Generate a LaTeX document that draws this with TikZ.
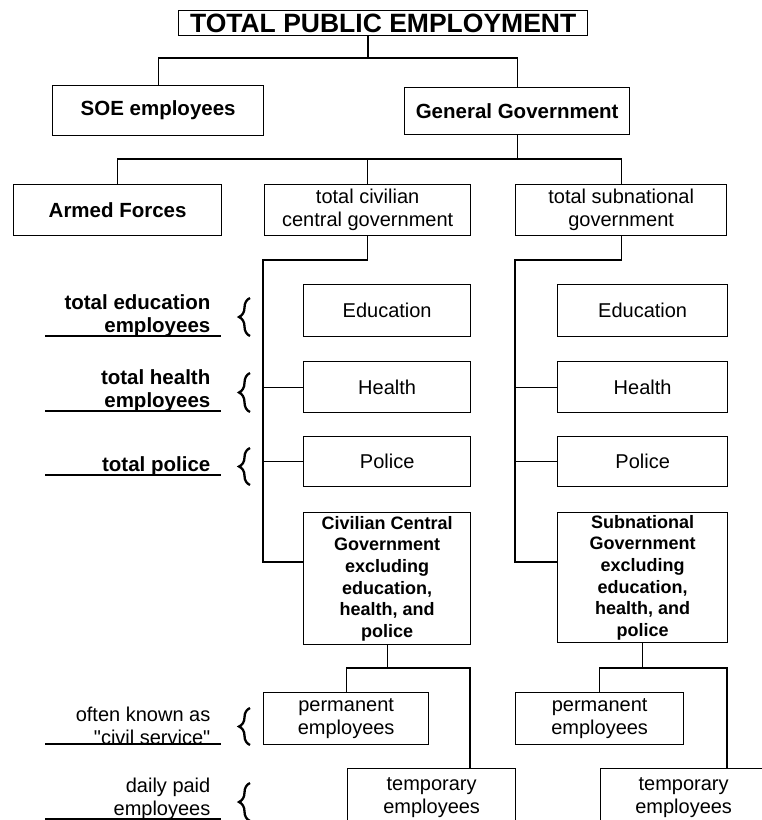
\documentclass[tikz,border=0pt]{standalone}
\usepackage{fontspec}
\newfontfamily\arialfont{Liberation Sans}
\usetikzlibrary{decorations.pathreplacing}
\begin{document}
\begin{tikzpicture}[x=1pt,y=-1pt,line width=1.3pt,
  box/.style={draw, rectangle, inner sep=0pt, align=center, anchor=north west,
    font=\arialfont\fontsize{20}{23}\selectfont},
  bbox/.style={box, font=\arialfont\fontsize{20.5}{23}\selectfont\bfseries},
  tbox/.style={box, font=\arialfont\fontsize{18}{21.7}\selectfont\bfseries},
  titlebox/.style={box, font=\arialfont\fontsize{26.5}{28}\selectfont\bfseries},
  lab/.style={inner sep=0pt, align=right, anchor=south east,
    font=\arialfont\fontsize{20}{23}\selectfont},
  blab/.style={lab, font=\arialfont\fontsize{20.5}{23}\selectfont\bfseries},
  conn/.style={draw, line width=1.3pt},
  uline/.style={line width=1.4pt},
  brc/.style={decorate, decoration={brace, amplitude=11pt, aspect=0.5}, line width=2.3pt}]
\useasboundingbox (0,0) rectangle (762,820);
\fill[white] (0,0) rectangle (762,820);
\clip (0,0) rectangle (762,820);

% boxes
\node[titlebox, minimum width=409pt, minimum height=25pt] (title) at (178,10) {TOTAL PUBLIC EMPLOYMENT};
\node[bbox, minimum width=211pt, minimum height=50pt] (soe) at (52,85) {SOE employees};
\node[bbox, minimum width=225pt, minimum height=47pt] (gg) at (404,87) {General Government};
\node[bbox, minimum width=208pt, minimum height=51pt] (af) at (13,184) {Armed Forces};
\node[box, minimum width=206pt, minimum height=51pt] (civ) at (264,184) {total civilian\\central government};
\node[box, minimum width=211pt, minimum height=51pt] (sub) at (515,184) {total subnational\\government};

\node[box, minimum width=167pt, minimum height=52pt] (ced) at (303,284) {Education};
\node[box, minimum width=167pt, minimum height=51pt] (che) at (303,361) {Health};
\node[box, minimum width=167pt, minimum height=50pt] (cpo) at (303,436) {Police};
\node[tbox, minimum width=167pt, minimum height=132pt] (ccg) at (303,512) {Civilian Central\\Government\\excluding\\education,\\health, and\\police};

\node[box, minimum width=170pt, minimum height=52pt] (sed) at (557,284) {Education};
\node[box, minimum width=170pt, minimum height=51pt] (she) at (557,361) {Health};
\node[box, minimum width=170pt, minimum height=50pt] (spo) at (557,436) {Police};
\node[tbox, minimum width=170pt, minimum height=130pt] (sng) at (557,512) {Subnational\\Government\\excluding\\education,\\health, and\\police};

\node[box, minimum width=165pt, minimum height=52pt] (cpe) at (263,692) {permanent\\employees};
\node[box, minimum width=168pt, minimum height=58pt] (cte) at (347,768) {temporary\\employees};
\node[box, minimum width=168pt, minimum height=52pt] (spe) at (515,692) {permanent\\employees};
\node[box, minimum width=166pt, minimum height=58pt] (ste) at (600,768) {temporary\\employees};

% junction coordinates
\coordinate (j1) at (368,58);
\coordinate (j2) at (515,159);
\coordinate (cs) at (263,260);
\coordinate (cb) at (263,562);
\coordinate (ss) at (515,260);
\coordinate (sb) at (515,562);
\coordinate (cj) at (470,668);
\coordinate (sj) at (727,668);

% connectors
\draw[conn] (title.south -| j1) -- (j1);
\draw[conn] (soe.north) |- (j1) -| (gg.north);
\draw[conn] (gg.south) -- (gg.south |- j2);
\draw[conn] (af.north) |- (j2) -| (sub.north);
\draw[conn] (civ.north) -- (civ.north |- j2);

\draw[conn] (civ.south) |- (cs) -- (cb) -- (cb -| ccg.west);
\draw[conn] (cs |- che.west) -- (che.west);
\draw[conn] (cs |- cpo.west) -- (cpo.west);
\draw[conn] (sub.south) |- (ss) -- (sb) -- (sb -| sng.west);
\draw[conn] (ss |- she.west) -- (she.west);
\draw[conn] (ss |- spo.west) -- (spo.west);

\draw[conn] (ccg.south) -- (ccg.south |- cj);
\draw[conn] (cpe.north) |- (cj) -- (cj |- cte.north);
\draw[conn] (sng.south) -- (sng.south |- sj);
\draw[conn] (spe.north) |- (sj) -- (sj |- ste.north);

% left labels
\node[blab] (l1) at (211,337) {total education\\employees};
\node[blab] (l2) at (211,412) {total health\\employees};
\node[blab] (l3) at (211,476) {total police};
\node[lab] (l4) at (211,745) {often known as\\\char"22 civil service\char"22};
\node[lab] (l5) at (211,820) {daily paid\\employees};

\draw[uline] (45,336) -- (221,336);
\draw[uline] (45,411) -- (221,411);
\draw[uline] (45,475) -- (221,475);
\draw[uline] (45,744) -- (221,744);
\draw[uline] (45,819) -- (221,819);

% braces
\draw[brc] (250,336) -- (250,298);
\draw[brc] (250,412) -- (250,373);
\draw[brc] (250,485) -- (250,448);
\draw[brc] (250,745) -- (250,708);
\draw[brc] (250,821) -- (250,783);
\end{tikzpicture}
\end{document}
